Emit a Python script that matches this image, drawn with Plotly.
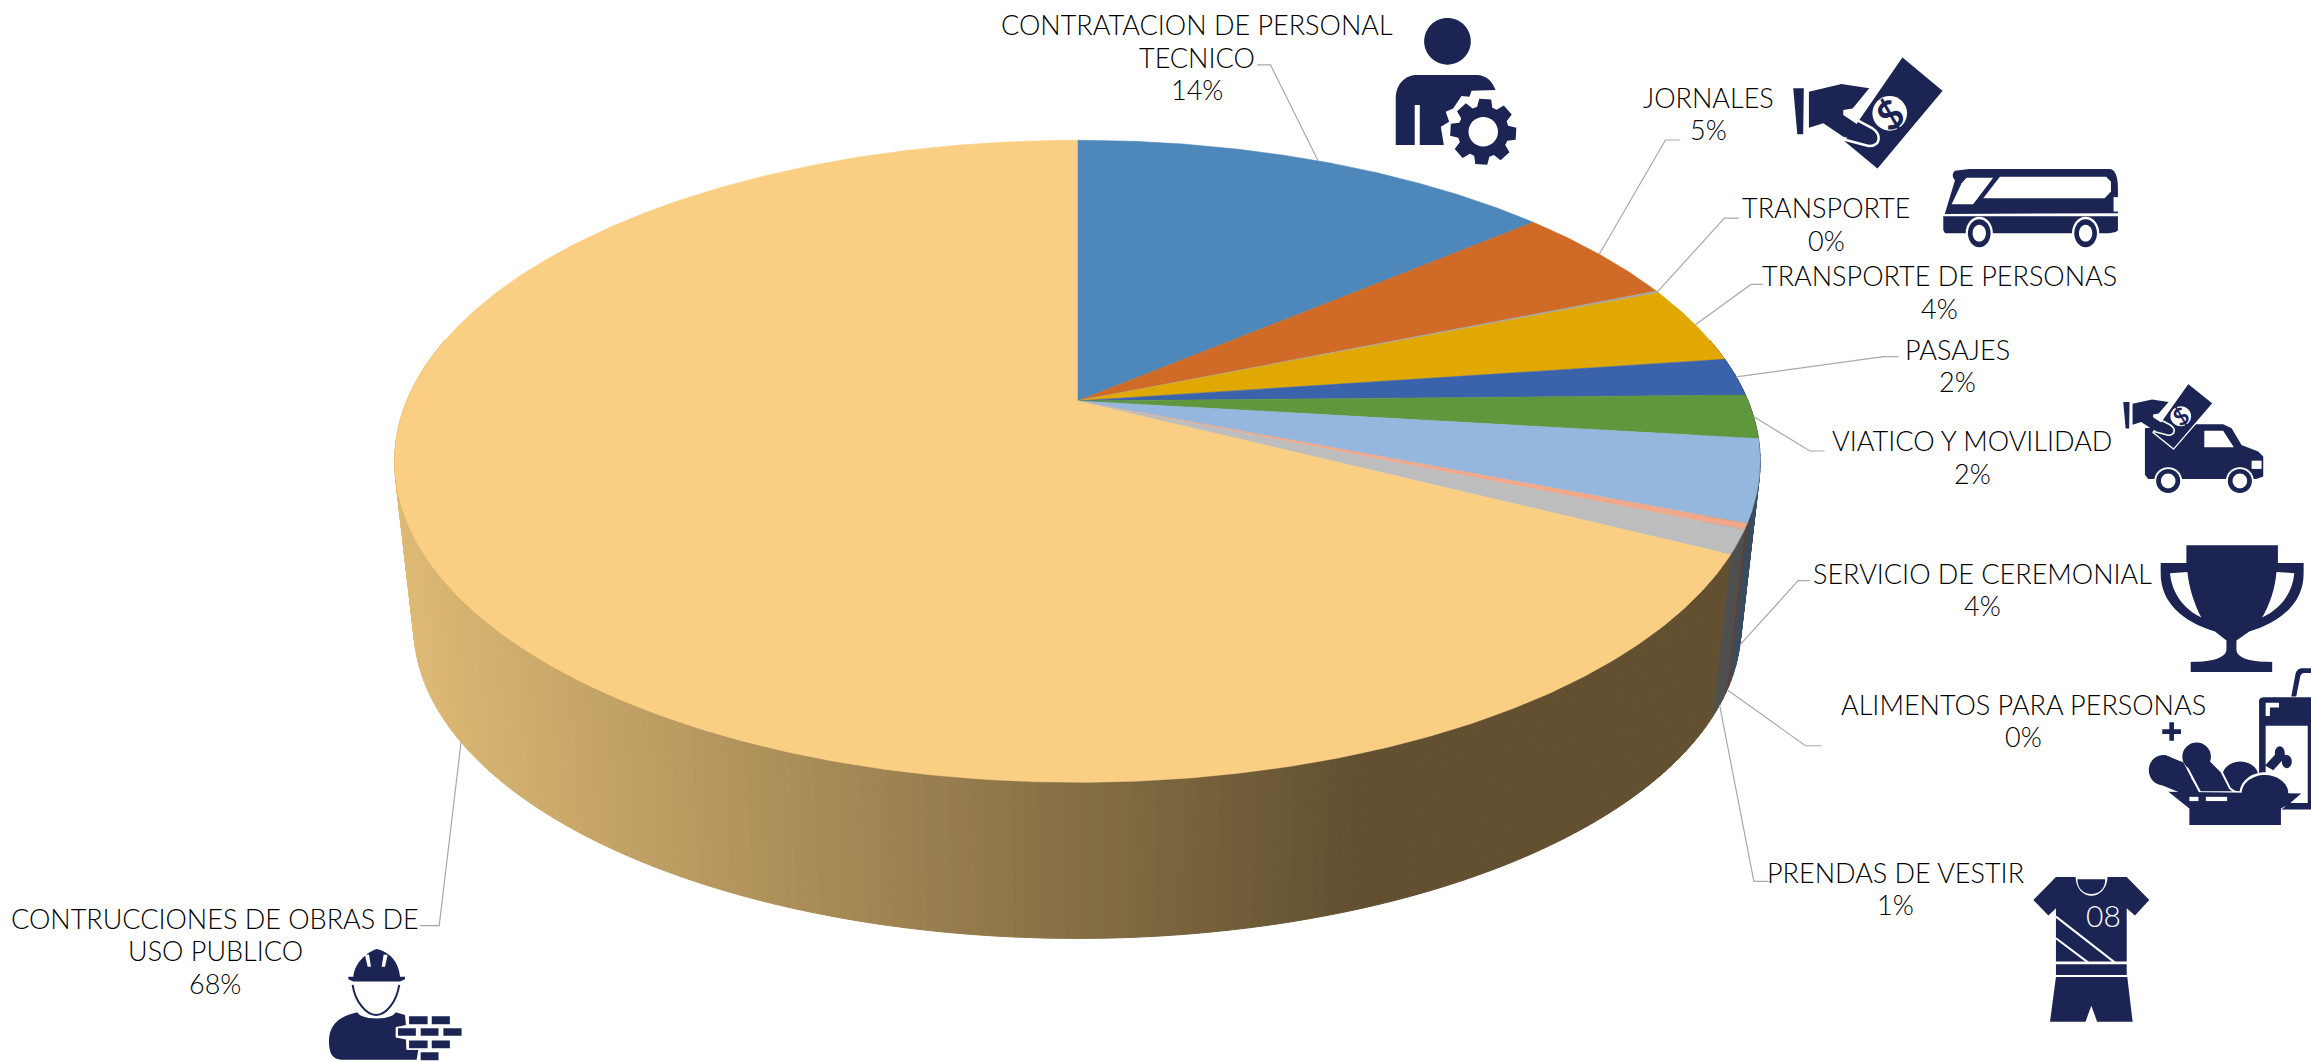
import math, re
import plotly.graph_objects as go

# ---------- data ----------
categories = ["CONTRATACION DE PERSONAL<br>TECNICO", "JORNALES", "TRANSPORTE", "TRANSPORTE DE PERSONAS",
              "PASAJES", "VIATICO Y MOVILIDAD", "SERVICIO DE CEREMONIAL", "ALIMENTOS PARA PERSONAS",
              "PRENDAS DE VESTIR", "CONTRUCCIONES DE OBRAS DE<br>USO PUBLICO"]
values = [13.8, 5.0, 0.1, 3.9, 1.9, 2.2, 4.1, 0.3, 1.2, 67.5]
top_colors = ["#4E87B9", "#CF6B27", "#A5A5A5", "#E0A800", "#3B63AB", "#5F973D", "#95B6DD", "#EFA98A", "#BDBDBD", "#FBCF83"]
side_colors = ["#2F5270", "#7D4118", "#636363", "#876600", "#243C67", "#395B25", "#3B4C5E", "#5F4033", "#4F4F4F", None]

# ---------- layout constants ----------
W, H = 2311, 1062
S = W / 1568
NAVY = "#1B2452"
CX, AY, A, R, K = 731 * S, 272 * S, -159 * S, 455 * S, 0.188
VY, SC = 4314 * S, 0.972
FONT = dict(family="Lato", size=27, color="#000000", weight=300)
LINE_H = 32.5

label_pos = [(812, 39), (1159, 77), (1239, 152), (1316, 198), (1328, 248),
             (1338, 310), (1345, 400), (1373, 489), (1286, 603), (146, 645)]
elbows = [[(862, 44), (853, 44)], [(1130, 95), (1140, 95)], [(1170, 148), (1180, 148)],
          [(1188, 193), (1196, 193)], [(1278, 242), (1288, 242)], [(1228, 306), (1238, 306)],
          [(1220, 394), (1228, 394)], [(1225, 506), (1236, 506)], [(1190, 598), (1200, 598)],
          [(298, 628), (285, 628)]]


def top_pt(t):
    sx, cy = math.sin(t), math.cos(t)
    w = 1 + K * cy
    return CX + R * sx / w, (A * cy + AY) / w


def bot_pt(t):
    x, y = top_pt(t)
    return CX + SC * (x - CX), VY + SC * (y - VY)


cum = [0]
for v in values:
    cum.append(cum[-1] + v)
ang = lambda p: p / 100 * 2 * math.pi


def poly(xs, ys, color):
    return go.Scatter(x=xs, y=ys, mode="lines", fill="toself", fillcolor=color,
                      line=dict(color=color, width=1), hoverinfo="skip", showlegend=False)


def yellow_grad(x):
    f = min(1, max(0, (x - 268 * S) / ((920 - 268) * S)))
    c0, c1 = (222, 186, 116), (98, 80, 49)
    return "rgb(%d,%d,%d)" % tuple(round(a + (b - a) * f) for a, b in zip(c0, c1))


# side wall, split into short quads so that the shading follows the rim
quads = []
for i, v in enumerate(values):
    n = max(2, int(v * 4))
    for j in range(n):
        t0, t1 = ang(cum[i] + v * j / n), ang(cum[i] + v * (j + 1) / n)
        if math.cos((t0 + t1) / 2) > 0.2:
            continue
        a, b, c, d = top_pt(t0), top_pt(t1), bot_pt(t1), bot_pt(t0)
        col = side_colors[i] or yellow_grad((a[0] + b[0]) / 2)
        quads.append(((c[1] + d[1]) / 2, [a[0], b[0], c[0], d[0], a[0]], [a[1], b[1], c[1], d[1], a[1]], col))
quads.sort(key=lambda q: q[0])

fig = go.Figure()
for _, xs, ys, col in quads:
    fig.add_trace(poly(xs, ys, col))

# top face
for i, v in enumerate(values):
    n = max(2, int(v * 8))
    pts = [top_pt(ang(cum[i] + v * j / n)) for j in range(n + 1)]
    xs = [CX] + [p[0] for p in pts] + [CX]
    ys = [AY] + [p[1] for p in pts] + [AY]
    fig.add_trace(go.Scatter(x=xs, y=ys, mode="lines", fill="toself", fillcolor=top_colors[i],
                             line=dict(color=top_colors[i], width=0.5), hoverinfo="skip", showlegend=False))

# leader lines and labels
for i, v in enumerate(values):
    mid = ang(cum[i] + v / 2)
    start = top_pt(mid) if cum[i] + v / 2 < 27 else bot_pt(mid)
    pts = [start] + [(x * S, y * S) for x, y in elbows[i]]
    fig.add_trace(go.Scatter(x=[p[0] for p in pts], y=[p[1] for p in pts], mode="lines",
                             line=dict(color="#A9A9A9", width=1.2), hoverinfo="skip", showlegend=False))
    lines = categories[i].split("<br>") + [f"{v:.0f}%"]
    for j, line in enumerate(lines):
        fig.add_annotation(x=label_pos[i][0] * S, y=label_pos[i][1] * S + (j - (len(lines) - 1) / 2) * LINE_H,
                           text=line, showarrow=False, xanchor="center", yanchor="middle", font=FONT)

# ---------- pictograms ----------
shapes = []


def ell(cx, cy, rx, ry):
    k = 0.5523
    return (f"M{cx-rx},{cy} C{cx-rx},{cy-k*ry} {cx-k*rx},{cy-ry} {cx},{cy-ry} "
            f"C{cx+k*rx},{cy-ry} {cx+rx},{cy-k*ry} {cx+rx},{cy} "
            f"C{cx+rx},{cy+k*ry} {cx+k*rx},{cy+ry} {cx},{cy+ry} "
            f"C{cx-k*rx},{cy+ry} {cx-rx},{cy+k*ry} {cx-rx},{cy} Z")


def gear(cx, cy, rx, ry, teeth=8):
    pts = []
    for i in range(teeth):
        base = 2 * math.pi * i / teeth - math.pi / 2 + 0.06
        for off, r in [(-0.30, .77), (-0.18, 1), (0.18, 1), (0.30, .77)]:
            pts.append((cx + rx * r * math.cos(base + off), cy + ry * r * math.sin(base + off)))
    return "M" + " L".join(f"{x:.2f},{y:.2f}" for x, y in pts) + " Z"


def rect(a, b, c, d):
    return f"M{a},{c} L{b},{c} L{b},{d} L{a},{d} Z"


def draw(box, items):
    """box = (x0, x1, y0, y1) in reference units; paths are in 0-100 box units."""
    x0, x1, y0, y1 = [b * S for b in box]

    def tr(path):
        out, idx = [], 0
        for tok in re.split(r"([A-Za-z ,])", path):
            if re.fullmatch(r"-?[\d.]+(e-?\d+)?", tok or ""):
                val = float(tok)
                out.append(f"{(x0 + (x1 - x0) * val / 100) if idx == 0 else (y0 + (y1 - y0) * val / 100):.2f}")
                idx = 1 - idx
            else:
                out.append(tok)
        return "".join(out)

    for it in items:
        path, col = it[0], it[1]
        if len(it) == 4:      # filled with an outline
            shapes.append(dict(type="path", path=tr(path), xref="x", yref="y", fillcolor=col,
                               line=dict(color=it[3], width=it[2])))
        elif len(it) == 3:    # stroke only
            shapes.append(dict(type="path", path=tr(path), xref="x", yref="y", line=dict(color=col, width=it[2])))
        else:
            shapes.append(dict(type="path", path=tr(path), xref="x", yref="y", fillcolor=col, line=dict(width=0)))


def icon_hand(box, lw):
    draw(box, [
        ("M72.3,0 L100,30.4 L56,100 L33.2,75 Z", NAVY, lw * 0.8, "white"),
        (rect(-1, 30, 20, 76), "rgba(0,0,0,0)"),
        ("M0,28.4 L7,28.4 L6.6,68.7 L2.7,68.7 Z", NAVY),
        ("M52.5,27 L41,46", "white", lw),
        ("M35,51 L52,63 C59,69 58,79 50,79 L33,73", "white", lw),
        ("M10.4,31.3 L32,24.6 L50.4,28.4 L39.4,46 L33.2,47.4 L33.2,51.8 L49.8,66.4 L52,72 L47.6,75 L33.2,70.8 L20,59 L10.4,62.9 Z", NAVY),
        (ell(64, 50.3, 11.5, 15.2), "white"),
    ])
    fig.add_annotation(x=(box[0] + .64 * (box[1] - box[0])) * S, y=(box[2] + .503 * (box[3] - box[2])) * S, text="<b>$</b>",
                       showarrow=False, textangle=-35, font=dict(family="Lato", size=(box[1] - box[0]) * .26 * S, color=NAVY))


# technician with gear
draw((947, 1029, 12.4, 112), [
    (ell(42.8, 15.7, 19.3, 15.9), NAVY),
    ("M0,86.4 L0,54.5 C0,45 8,38.6 17,38.6 L66.9,38.6 C75,38.6 80,43 82.6,48.9 L62.7,49.3 L61,53.4 L54.4,53 L47.5,61.4 L41.4,63.6 L44.2,70.5 L37.3,73.9 L39.8,86.4 L19.9,86.4 L19.9,59 L15.7,59 L15.7,86.4 Z", NAVY),
    (gear(72.4, 77.3, 27.6, 22.7), NAVY),
    (ell(72.4, 77.3, 12.2, 10), "white"),
])
icon_hand((1216.7, 1319, 38, 115.3), 2.5)
# bus
draw((1318.5, 1437, 114.2, 168.5), [
    ("M1,56 L6.7,15 C5,11 5,6 6.7,3 L15,1 L95,1 C98,1 100,8 100,25 L100,56 L1,57 Z", NAVY),
    ("M0,60 L100,60 L100,77 C100,79 97,81 93.3,81 L1,81 L0,77 Z", NAVY),
    ("M4.8,45 L10.5,18.7 L13.3,11.7 L28.6,11.7 L17.1,45 Z", "white"),
    ("M32.4,10.4 L93.3,10.4 L96,16.7 L96,29 L92.4,37.5 L22.9,37.5 Z", "white"),
    (rect(97.5, 101, 36, 54), "white"),
    (ell(20.6, 81, 7.8, 20.5), "white"), (ell(20.6, 81, 6.5, 17.5), NAVY), (ell(20.6, 81, 3.8, 10.4), "white"),
    (ell(81.5, 81, 7.8, 20.5), "white"), (ell(81.5, 81, 6.5, 17.5), NAVY), (ell(81.5, 81, 3.8, 10.4), "white"),
])
# van with money
draw((1440.6, 1535.6, 260, 334), [
    ("M15.5,41.3 L47.6,37.6 L71.4,37.6 L77.4,41.3 L84.5,56.6 L96.4,62.7 L100,67.3 L100,85.6 L95,87.8 L17.9,87.8 L15.5,84 Z", NAVY),
    ("M57.9,43.7 L71.4,43.7 L79,58.7 L57.9,58.7 Z", "white"),
    (rect(91.7, 98.8, 71, 78.6), "white"),
    (ell(32.1, 89.6, 10, 12.6), "white"), (ell(32.1, 89.6, 8.6, 11), NAVY), (ell(32.1, 89.6, 5.2, 6.7), "white"),
    (ell(83.3, 89.6, 10, 12.6), "white"), (ell(83.3, 89.6, 8.6, 11), NAVY), (ell(83.3, 89.6, 5.2, 6.7), "white"),
])
icon_hand((1440.6, 1501.6, 260, 304.7), 1.6)
# trophy
draw((1466, 1563, 370, 456), [
    ("M18,0 L82,0 L82,14 L100,14 L100,22 C100,45 85,60 62,68 L53,75 L53,82 C53,88 60,92 78,92 L78,100 L21,100 L21,92 C38,92 46,88 46,82 L46,75 L38,68 C15,60 0,45 0,22 L0,14 L18,14 Z", NAVY),
    ("M6.5,22 L18.7,21 C20,35 24,47 28.4,57 C16,50 8,38 6.5,22 Z", "white"),
    ("M93.5,22 L81,21 C80,35 76,47 71,57 C84,50 92,38 93.5,22 Z", "white"),
])
# food and drink
draw((1456.5, 1568, 453.4, 559.8), [
    ("M88,18 L90.5,4 C91,1 93,0 95,0 L100,0 L100,3 L96,3 C94.5,3 93.5,4 93.3,6 L91,18 Z", NAVY),
    ("M68.4,21 C68.4,19 70,18.5 72,18.5 L100,18.5 L100,90 L68.4,90 Z", NAVY),
    (rect(72.4, 98, 36.6, 86), "white"),
    ("M72.4,22 L80.5,22 L80.5,25 L75,25 L75,30.5 L72.4,30.5 Z", "white"),
    ("M13.8,34.5 L16.6,34.5 L16.6,38.9 L20.9,38.9 L20.9,41.9 L16.6,41.9 L16.6,46.3 L13.8,46.3 L13.8,41.9 L9.5,41.9 L9.5,38.9 L13.8,38.9 Z", NAVY),
    ("M11,55.3 L27,62 L33.5,68 L27,70 L33.5,79.8 L26.4,82 L9,74.5 Z", NAVY), (ell(10, 65, 8.7, 9.6), NAVY),
    (ell(57, 69, 11, 9.5), NAVY),
    ("M30,48 L38.5,58.5 L45.6,66 L50.7,76.6 L53.8,79 L32.5,79 L26.4,67 L22,58 Z", NAVY, 2, "white"),
    (ell(30.4, 56.4, 8.7, 9), NAVY),
    ("M72,62 L81,52 L85,56 L77,65 Z", NAVY), (ell(81, 54, 3, 4.2), NAVY), (ell(85.3, 59.5, 3, 4.2), NAVY),
    (ell(72, 79.8, 15.5, 13.5), "white"), (ell(72, 79.8, 14.2, 11.7), NAVY),
    ("M13.2,78.7 L94,79.8 L87.4,86 L81.7,89.4 L81.7,100 L26,100 L26,89.4 Z", NAVY),
    (rect(26, 31.5, 82, 84.7), "white"), (rect(36, 49, 82, 84.7), "white"),
])
# football shirt
draw((1379.6, 1458.3, 595, 693.2), [
    ("M19.5,0 L80.5,0 L100,16 L87.6,26.7 L80.5,21.7 L80.5,58.5 L19.5,58.5 L19.5,21.7 L13,26.7 L0,16 Z", NAVY),
    ("M36.4,-0.5 C36.4,8 43,13 50,13 C57,13 64,8 64,-0.5 Z", "white"),
    ("M38,1.6 L62,1.6 C62,8 57,11.8 50,11.8 C43,11.8 38,8 38,1.6 Z", NAVY),
    ("M19.5,27.4 L70.4,59.2", "white", 2),
    ("M19.5,42.4 L47.4,59.2", "white", 2),
    (rect(19.5, 80.5, 60.4, 67.7), NAVY),
    ("M19.5,69.1 L81,69.1 L85.6,100 L55,100 L50,89 L45,100 L14.4,100 Z", NAVY),
])
fig.add_annotation(x=1427 * S, y=621 * S, text="08", showarrow=False,
                   font=dict(family="Lato", size=30, color="white", weight=300))
# builder with bricks
bricks = [(59.5, 74.5, 59.5, 67.9), (76.5, 91.2, 59.5, 67.9), (51.2, 65.7, 70.2, 78.3), (68.2, 82.7, 70.2, 78.3),
          (85.2, 100, 70.2, 78.3), (59.5, 74.5, 81.2, 89.3), (76.5, 91.2, 81.2, 89.3), (68.2, 82.7, 91.7, 100)]
draw((223.2, 313.7, 643.9, 719.8), [
    ("M18.3,24.7 C19.5,11 29.5,2.4 35.8,0 C43,2 52,8.3 53.3,24.7 L57,24.7 L57,27 L53.3,29 L18.3,29 L14.5,27 L14.5,24.7 Z", NAVY),
    ("M27,5.4 L30,5 L31.5,15.8 L29,15.8 Z", "white"), ("M41,5 L44,5.4 L42,15.8 L39.5,15.8 Z", "white"),
    ("M17.75,32 C19.5,47 28,59 35.3,59 C43,59 50.7,47 52.7,32", NAVY, 2),
    ("M0,82.7 C0,68 7,60.4 21.2,56.5 C24.5,64 47,64 50,56.5 L57,59 L57.7,68 L50,70 L50,79 L57.7,81 L58,90 L67,90 L65.7,99 L9.5,99 C2,99 0,91.7 0,82.7 Z", NAVY),
] + [(rect(*b), NAVY, 1.5, "white") for b in bricks])

fig.update_layout(
    width=W, height=H, margin=dict(l=0, r=0, t=0, b=0), paper_bgcolor="white", plot_bgcolor="white",
    xaxis=dict(range=[0, W], visible=False, fixedrange=True),
    yaxis=dict(range=[H, 0], visible=False, fixedrange=True),
    showlegend=False, shapes=shapes,
)
fig.write_html("out.html", post_script="document.body.style.margin='0';document.body.style.overflow='hidden';",
               config=dict(displayModeBar=False))
